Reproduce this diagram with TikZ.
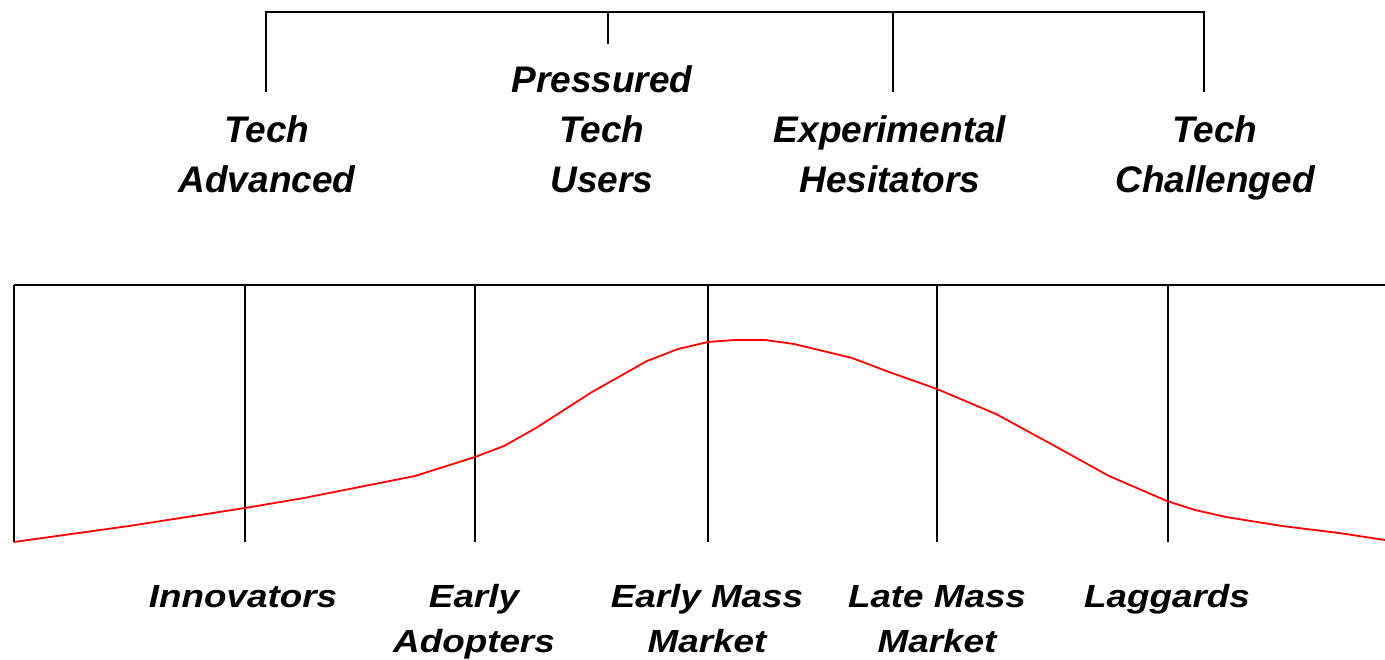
\documentclass[tikz,border=0pt]{standalone}
\usepackage{fontspec}
\setmainfont{Liberation Sans}
\newfontfamily\adopterfont[FakeStretch=1.15]{Liberation Sans}
\usetikzlibrary{positioning}
\tikzset{
  segment/.style={font=\fontsize{37}{50}\selectfont\bfseries\itshape, align=center, inner sep=0pt, anchor=base},
  adopter/.style={font=\adopterfont\fontsize{32}{45}\selectfont\bfseries\itshape, align=center, inner sep=0pt, anchor=base},
  rule/.style={line width=1.8pt, black},
  bellcurve/.style={line width=1.8pt, red, line join=round}
}

\begin{document}
\begin{tikzpicture}[x=1pt, y=-1pt]
\useasboundingbox (0,0) rectangle (1385,660);
% bracket over the segments
\coordinate (bl) at (266,12);
\coordinate (br) at (1204,12);
\coordinate (dadv) at (266,92);
\coordinate (dpre) at (608,44);
\coordinate (dexp) at (893,92);
\coordinate (dcha) at (1204,92);
\draw[rule] (dadv) -- (bl) -- (br) -- (dcha);
\draw[rule] (dpre) -- (dpre |- bl);
\draw[rule] (dexp) -- (dexp |- bl);
\node[segment] (advanced) at (267,193) {Tech\\Advanced};
\node[segment] (pressured) at (602,193) {Pressured\\Tech\\Users};
\node[segment] (hesitators) at (890,193) {Experimental\\Hesitators};
\node[segment] (challenged) at (1215,193) {Tech\\Challenged};
% adoption axis
\coordinate (al) at (14,285);
\coordinate (ar) at (1385,285);
\draw[rule] (al) -- (ar);
\foreach \name/\x in {v0/14, v1/245, v2/475, v3/708, v4/937, v5/1168}{
  \coordinate (\name) at (\x,285);
  \draw[rule] (\name) -- ++(0,257);
}
% bell curve
\draw[bellcurve] (14,542) -- (129,526) -- (245,508) -- (304,498) -- (415,476) -- (475,457)
  -- (504,446) -- (536,428) -- (592,392) -- (647,361) -- (678,349) -- (708,342) -- (734,340)
  -- (765,340) -- (794,344) -- (819,350) -- (852,358) -- (889,372) -- (937,389) -- (996,414)
  -- (1053,445) -- (1109,476) -- (1167,501) -- (1195,510) -- (1226,517) -- (1282,526)
  -- (1339,533) -- (1385,540);
\node[adopter] (innovators) at (243,607) {Innovators};
\node[adopter] (early) at (474,652) {Early\\Adopters};
\node[adopter] (earlymass) at (707,652) {Early Mass\\Market};
\node[adopter] (latemass) at (937,652) {Late Mass\\Market};
\node[adopter] (laggards) at (1167,607) {Laggards};
\end{tikzpicture}
\end{document}
